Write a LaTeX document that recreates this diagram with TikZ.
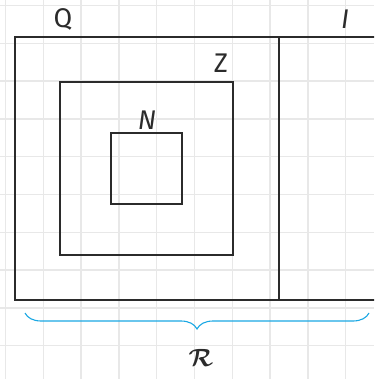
\documentclass[tikz,border=0pt]{standalone}
\usepackage{amsmath,amssymb,bm}
\usepackage{fontspec}
\setsansfont{Fira Sans}
\usepackage{xcolor}
\usetikzlibrary{decorations.pathreplacing}

\definecolor{gridgray}{HTML}{E8E8E8}
\definecolor{setline}{HTML}{2B2B2B}
\definecolor{bracecol}{HTML}{1BA8E4}

\tikzset{
  setbox/.style={draw=setline, line width=1.6pt},
  setlabel/.style={font=\fontsize{27}{30}\selectfont\sffamily, text=setline, inner sep=0pt},
}

\begin{document}
\begin{tikzpicture}[x=1pt, y=-1pt]
  % Canvas and grid
  \useasboundingbox (0,0) rectangle (374,379);
  \clip (0,0) rectangle (374,379);
  \fill[white] (0,0) rectangle (374,379);
  \foreach \k in {0,...,9} {
    \draw[gridgray, line width=1.3pt] (5.5+37.8*\k, 0) -- (5.5+37.8*\k, 379);
    \draw[gridgray, line width=1.3pt] (0, 5.5+37.8*\k) -- (374, 5.5+37.8*\k);
  }

  % Sets
  \draw[setbox] (15,37) rectangle (279,300); % Q
  \draw[setbox] (279,37) rectangle (385,300); % I
  \draw[setbox] (60,82) rectangle (233,255); % Z
  \draw[setbox] (111,133) rectangle (182,204); % N

  % Labels
  \node[setlabel] (lQ) at (63,19) {Q};
  \node[setlabel] (lI) at (345,19) {\itshape I};
  \node[setlabel] (lZ) at (221,63) {Z};
  \node[setlabel] (lN) at (147,120) {\itshape N};

  % Brace for R
  \coordinate (bL) at (25,313);
  \coordinate (bR) at (369,313);
  \draw[bracecol, line width=1.1pt, decorate,
        decoration={brace, amplitude=16pt, aspect=0.5}] (bR) -- (bL);
  \node[font=\fontsize{32}{34}\selectfont, text=setline, inner sep=0pt] (lR) at (201,358) {$\bm{\mathcal{R}}$};
\end{tikzpicture}
\end{document}
